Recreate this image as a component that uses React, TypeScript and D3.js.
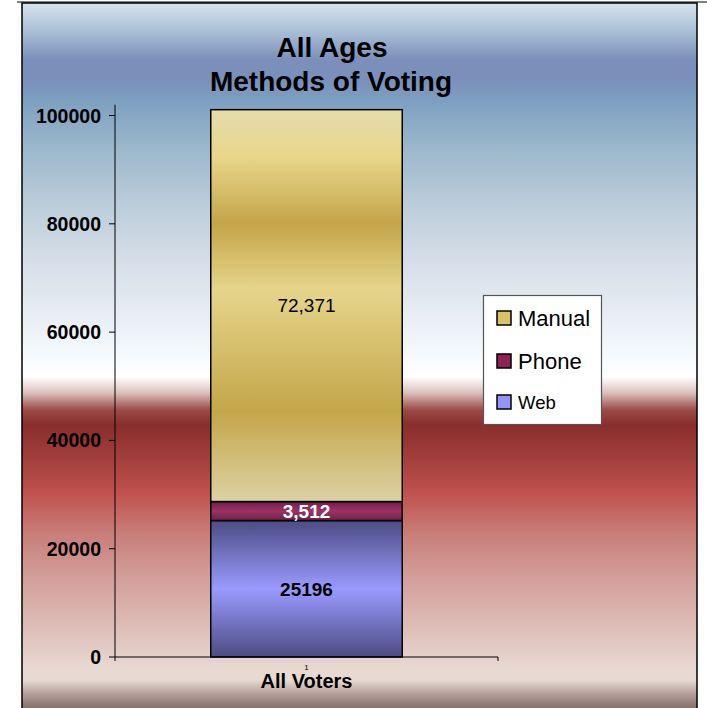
import React from "react";
import * as d3 from "d3";

const categories = ["All Voters"];
const seriesNames = ["Web", "Phone", "Manual"];
const webValues = [25196];
const phoneValues = [3512];
const manualValues = [72371];
const valueLabels = ["25196", "3,512", "72,371"];
const yTicks = [0, 20000, 40000, 60000, 80000, 100000];
const legendOrder = ["Manual", "Phone", "Web"];

const FONT = "'Liberation Sans', Arial, sans-serif";

const bgStops: [number, string][] = [
  [3, "#d6e4ee"], [33, "#a7bcd4"], [60, "#7b8fba"], [80, "#7a90bb"],
  [100, "#7d9fc0"], [150, "#9db8cc"], [200, "#b9cbd9"], [250, "#d1dbe6"],
  [300, "#e2e9f0"], [350, "#f4f8fb"], [377, "#ffffff"], [393, "#d9bfbb"],
  [410, "#9a4a48"], [425, "#892d2d"], [467, "#a94441"], [493, "#c0514e"],
  [533, "#c97d79"], [583, "#d4a29d"], [633, "#dfc1bb"], [670, "#e9d9d3"],
  [680, "#e8d9d3"], [693, "#b8a39e"], [708, "#85706a"],
];

const swatch: Record<string, string> = { Manual: "#d9c16a", Phone: "#8b2454", Web: "#9494f4" };
const legendSize: Record<string, number> = { Manual: 22, Phone: 22, Web: 18.5 };

export default function App() {
  const width = 707, height = 708;
  const x = d3.scaleBand().domain(categories).range([115, 498]).paddingInner(0.5).paddingOuter(0.25);
  const y = d3.scaleLinear().domain([0, 102000]).range([657, 104.7]);

  const table = categories.map((c, i) => ({ cat: c, Web: webValues[i], Phone: phoneValues[i], Manual: manualValues[i] }));
  const stacked = d3.stack<any>().keys(seriesNames)(table);

  const grad = (id: string, stops: [number, string][]) => (
    <linearGradient id={id} x1="0" y1="0" x2="0" y2="1">
      {stops.map(([o, c], i) => <stop key={i} offset={o} stopColor={c} />)}
    </linearGradient>
  );

  return (
    <div style={{ position: "absolute", left: 0, top: 0 }}>
      <svg width={width} height={height} style={{ display: "block", background: "#fff" }}>
        <defs>
          <linearGradient id="bg" gradientUnits="userSpaceOnUse" x1="0" y1="3" x2="0" y2="708">
            {bgStops.map(([p, c], i) => <stop key={i} offset={(p - 3) / 705} stopColor={c} />)}
          </linearGradient>
          {grad("gManual", [[0, "#e4dcae"], [0.12, "#e8d68a"], [0.29, "#c4a54a"], [0.46, "#e6d58a"], [0.77, "#c4a64a"], [1, "#ddd2a4"]])}
          {grad("gPhone", [[0, "#6a2046"], [0.5, "#9e3264"], [1, "#6a2046"]])}
          {grad("gWeb", [[0, "#4c4c84"], [0.5, "#9a9aff"], [1, "#4c4c84"]])}
        </defs>

        <rect x={22} y={3} width={675} height={710} fill="url(#bg)" stroke="#000" strokeWidth={1.5} />
        <line x1={17} x2={707} y1={2} y2={2} stroke="#000" strokeWidth={1} />

        <text x={332} y={57} textAnchor="middle" fontFamily={FONT} fontWeight="bold" fontSize={28}>All Ages</text>
        <text x={331} y={91} textAnchor="middle" fontFamily={FONT} fontWeight="bold" fontSize={28}>Methods of Voting</text>

        {stacked.map((s) => s.map((d, i) => (
          <rect key={s.key + i} x={x(d.data.cat)} width={x.bandwidth()}
            y={y(d[1])} height={y(d[0]) - y(d[1])}
            fill={`url(#g${s.key})`} stroke="#000" strokeWidth={1.5} />
        )))}

        {stacked.map((s, si) => s.map((d, i) => (
          <text key={"l" + s.key + i} x={(x(d.data.cat) as number) + x.bandwidth() / 2}
            y={(y(d[0]) + y(d[1])) / 2} dy="0.36em" textAnchor="middle"
            fontFamily={FONT} fontSize={19}
            fontWeight={s.key === "Manual" ? "normal" : "bold"}
            fill={s.key === "Phone" ? "#fff" : "#000"}>{valueLabels[si]}</text>
        )))}

        <line x1={115} x2={115} y1={y(102000)} y2={y(0)} stroke="#000" strokeWidth={1} />
        {yTicks.map((t) => (
          <g key={t}>
            <line x1={109} x2={115} y1={y(t)} y2={y(t)} stroke="#000" strokeWidth={1} />
            <text x={101} y={y(t)} dy="0.36em" textAnchor="end" fontFamily={FONT} fontWeight="bold" fontSize={19.5}>{t}</text>
          </g>
        ))}

        <line x1={115} x2={498} y1={y(0)} y2={y(0)} stroke="#000" strokeWidth={1} />
        {x.range().map((r, i) => (
          <line key={i} x1={r} x2={r} y1={y(0)} y2={y(0) + 4} stroke="#000" strokeWidth={1} />
        ))}
        {categories.map((c, i) => (
          <g key={c}>
            <text x={(x(c) as number) + x.bandwidth() / 2} y={670} textAnchor="middle" fontFamily={FONT} fontSize={8} fill="#000">{i + 1}</text>
            <text x={(x(c) as number) + x.bandwidth() / 2} y={688} textAnchor="middle" fontFamily={FONT} fontWeight="bold" fontSize={20}>{c}</text>
          </g>
        ))}

        <rect x={483.5} y={295.5} width={118} height={129} fill="#fff" stroke="#555" strokeWidth={1.2} />
        {legendOrder.map((k, i) => {
          const cy = [318, 361, 402][i];
          return (
            <g key={k}>
              <rect x={497} y={cy - 7} width={14} height={14} fill={swatch[k]} stroke="#000" strokeWidth={1.5} />
              <text x={518} y={cy} dy="0.36em" fontFamily={FONT} fontSize={legendSize[k]}>{k}</text>
            </g>
          );
        })}
      </svg>
    </div>
  );
}
